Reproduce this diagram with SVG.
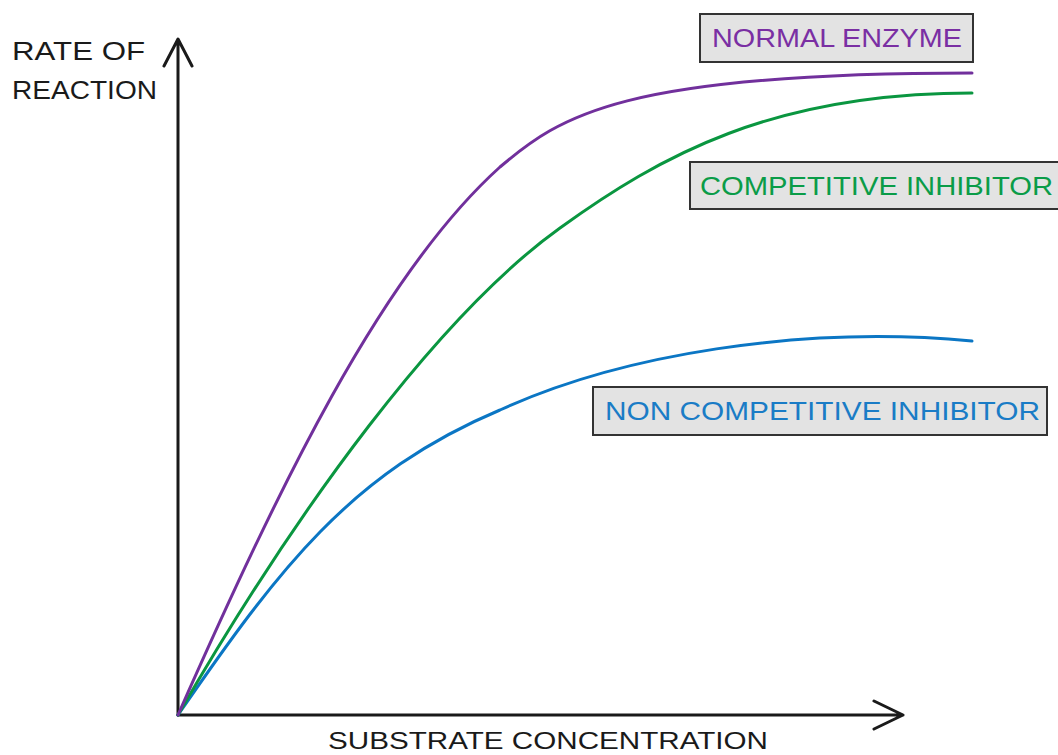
<svg xmlns="http://www.w3.org/2000/svg" width="1058" height="755" viewBox="0 0 1058 755">
<style>
.axis{fill:none;stroke:#1a1a1a;stroke-width:3;stroke-linecap:round;stroke-linejoin:round}
.curve{fill:none;stroke-width:3;stroke-linecap:round}
.box{fill:#e3e3e3;stroke:#333333;stroke-width:2}
.t{font-family:"Liberation Sans","DejaVu Sans",sans-serif;font-size:26px}
.k{fill:#1a1a1a}
</style>
<rect width="1058" height="755" fill="#ffffff"/>
<g id="axes">
<path class="axis" d="M178,715 V40 M164,66 L178,39 L192,66"/>
<path class="axis" d="M178,715 H903 M874,701 L903,715 L874,729"/>
</g>
<g id="axis-labels">
<text class="t k" x="12" y="60" textLength="133" lengthAdjust="spacingAndGlyphs">RATE OF</text>
<text class="t k" x="12" y="99" textLength="145" lengthAdjust="spacingAndGlyphs">REACTION</text>
<text class="t k" x="328" y="749" font-size="24" style="font-size:24px" textLength="440" lengthAdjust="spacingAndGlyphs">SUBSTRATE CONCENTRATION</text>
</g>
<g id="connectors">
<path class="curve" stroke="#0b76c4" d="M178,715 C278,570 350,473 500,410 C620,355 800,325 972,341"/>
<path class="curve" stroke="#0a9640" d="M178,715 C298,507 440,314 560,228 C660,156 772,93 972,93"/>
<path class="curve" stroke="#71309c" d="M178,715 C278,489 380,275 500,167 C560,116 622,73 972,73"/>
</g>
<g id="node-normal">
<rect class="box" x="700" y="14" width="273" height="48"/>
<text class="t" fill="#7a2fa3" x="712" y="47" textLength="250" lengthAdjust="spacingAndGlyphs">NORMAL  ENZYME</text>
</g>
<g id="node-competitive">
<rect class="box" x="690" y="162" width="380" height="47"/>
<text class="t" fill="#0a9c48" x="700" y="195" textLength="353" lengthAdjust="spacingAndGlyphs">COMPETITIVE  INHIBITOR</text>
</g>
<g id="node-noncompetitive">
<rect class="box" x="593" y="387" width="454" height="48"/>
<text class="t" fill="#1a7cc6" x="605" y="420" textLength="435" lengthAdjust="spacingAndGlyphs">NON  COMPETITIVE  INHIBITOR</text>
</g>
</svg>
